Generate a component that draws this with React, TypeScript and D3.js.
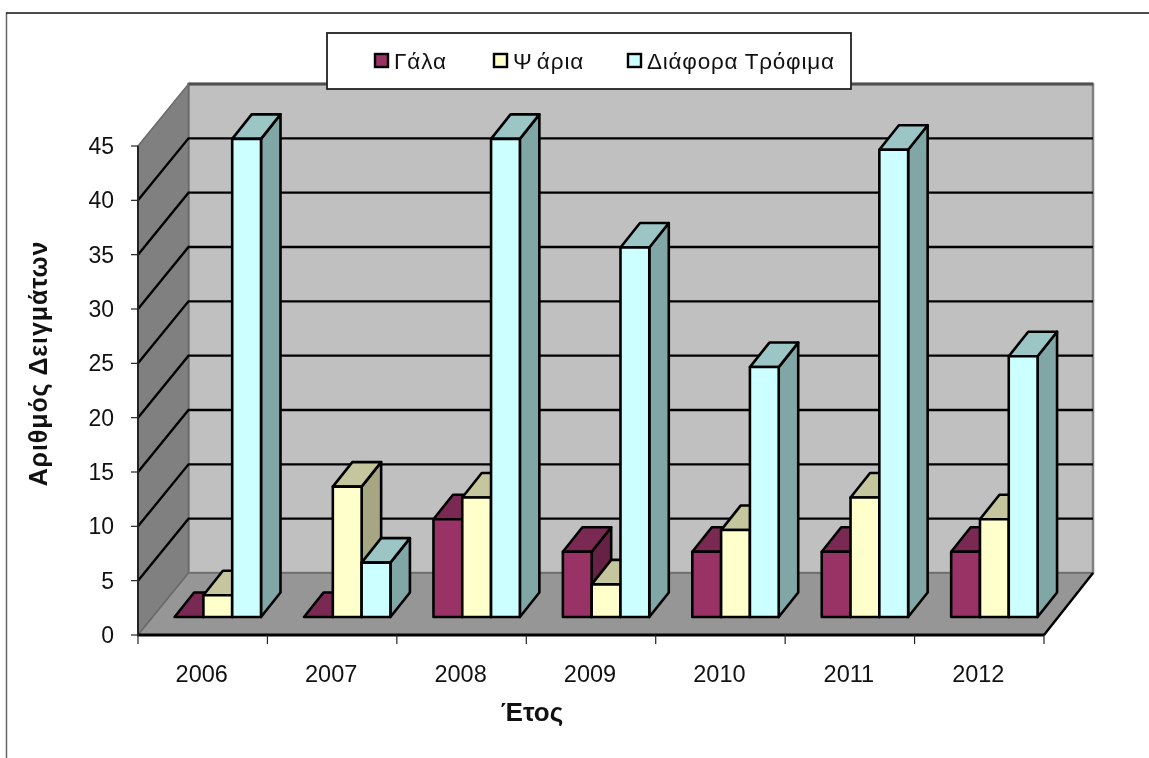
import React from "react";
import * as d3 from "d3";

const years = ["2006", "2007", "2008", "2009", "2010", "2011", "2012"];
const seriesNames = ["Γάλα", "Ψάρια", "Διάφορα Τρόφιμα"];
const gala = [0, 0, 9, 6, 6, 6, 6];
const psaria = [2, 12, 11, 3, 8, 11, 9];
const diafora = [44, 5, 44, 34, 23, 43, 24];
const yTicks = [0, 5, 10, 15, 20, 25, 30, 35, 40, 45];
const gridValues = [5, 10, 15, 20, 25, 30, 35, 40];

const frontColors = ["#993366", "#ffffcc", "#ccffff"];
const topColors = ["#7a2952", "#c6c69e", "#9cc6c6"];
const sideColors = ["#662244", "#a6a682", "#80a6a6"];

const W = 1149, H = 758;
const x0 = 138, x1 = 1044;
const wallDx = 51, wallDy = -62;
const barBaseDy = -18;
const depthDx = 19.5, depthDy = -24.5;

const y = d3.scaleLinear().domain([0, 45]).range([635, 146]);
const xCat = d3.scaleBand<string>().domain(years).range([x0, x1]);
const xBar = d3.scaleLinear().domain([0, 3]).range([36.6, 123]);
const ticksX = d3.range(years.length + 1).map((i) => x0 + i * xCat.step());
const sans = "'Liberation Sans', Arial, sans-serif";
const pts = (a: number[][]) => a.map((p) => p.join(",")).join(" ");

function Bar({ x, w, v, s }: { x: number; w: number; v: number; s: number }) {
  const b = y(0) + barBaseDy;
  const t = y(v) + barBaseDy;
  const common = { stroke: "#000", strokeWidth: 2.6, strokeLinejoin: "round" as const };
  return (
    <g>
      <polygon points={pts([[x + w, t], [x + w + depthDx, t + depthDy], [x + w + depthDx, b + depthDy], [x + w, b]])} fill={sideColors[s]} {...common} />
      <polygon points={pts([[x, t], [x + depthDx, t + depthDy], [x + w + depthDx, t + depthDy], [x + w, t]])} fill={topColors[s]} {...common} />
      <rect x={x} y={t} width={w} height={b - t} fill={frontColors[s]} {...common} />
    </g>
  );
}

export default function App() {
  const data = [gala, psaria, diafora];
  const bw = xBar(1) - xBar(0);
  const backX0 = x0 + wallDx - 0.5, backX1 = 1093;
  const legendItems = [
    { sq: 375, tx: 394, ls: 0.9 },
    { sq: 494, tx: 513, ls: 0.9 },
    { sq: 628, tx: 647, ls: 0.75 },
  ];
  return (
    <svg width={W} height={H} style={{ position: "absolute", left: 0, top: 0, background: "#fff", filter: "blur(0.55px)" }} fontFamily={sans}>
      <line x1={6.5} y1={13} x2={6.5} y2={H} stroke="#666" strokeWidth={1.5} />
      <line x1={6} y1={13} x2={W} y2={13} stroke="#111" strokeWidth={1.5} />

      {/* walls and floor */}
      <rect x={backX0} y={y(45) + wallDy} width={backX1 - backX0} height={y(0) - y(45)} fill="#c0c0c0" stroke="#808080" strokeWidth={2.5} />
      <line x1={backX0} x2={backX1} y1={y(45) + wallDy} y2={y(45) + wallDy} stroke="#505050" strokeWidth={2.8} />
      <polygon points={pts([[x0, y(45)], [backX0, y(45) + wallDy], [backX0, y(0) + wallDy], [x0, y(0)]])} fill="#808080" stroke="#6a6a6a" strokeWidth={1.5} />
      <polygon points={pts([[x0, y(0)], [backX0, y(0) + wallDy], [backX1, y(0) + wallDy], [x1, y(0)]])} fill="#969696" stroke="#6a6a6a" strokeWidth={1.5} />
      <line x1={x1} y1={y(0)} x2={backX1} y2={y(0) + wallDy} stroke="#000" strokeWidth={2.4} />

      {/* gridlines */}
      {gridValues.map((v) => (
        <polyline key={v} points={pts([[x0, y(v)], [backX0, y(v) + wallDy], [backX1, y(v) + wallDy]])} fill="none" stroke="#000" strokeWidth={2.4} />
      ))}
      <line x1={x0} y1={y(0)} x2={x1} y2={y(0)} stroke="#000" strokeWidth={3} />

      {/* bars */}
      {years.map((yr, i) =>
        data.map((series, s) => (
          <Bar key={yr + s} x={(xCat(yr) as number) + xBar(s)} w={bw} v={series[i]} s={s} />
        ))
      )}

      {/* axes */}
      <line x1={x0} y1={y(45)} x2={x0} y2={y(0)} stroke="#222" strokeWidth={2} />
      {yTicks.map((v) => (
        <g key={v}>
          <line x1={x0 - 7} x2={x0} y1={y(v)} y2={y(v)} stroke="#222" strokeWidth={1.2} />
          <text x={114} y={y(v) + 8} textAnchor="end" fontSize={23} fill="#111">{v}</text>
        </g>
      ))}
      {ticksX.map((t, i) => (
        <line key={i} x1={t} x2={t} y1={y(0)} y2={y(0) + 9} stroke="#222" strokeWidth={1.2} />
      ))}
      {years.map((yr) => (
        <text key={yr} x={(xCat(yr) as number) + xCat.bandwidth() / 2 - 1} y={682} textAnchor="middle" fontSize={23.5} fill="#111">{yr}</text>
      ))}
      <text x={532} y={721} textAnchor="middle" fontSize={26} fontWeight="bold" fill="#111">Έτος</text>
      <text transform="translate(47,363.5) rotate(-90)" textAnchor="middle" fontSize={25} fontWeight="bold" letterSpacing={0.9} fill="#111">Αριθμός Δειγμάτων</text>

      {/* legend */}
      <rect x={327} y={33} width={524} height={56} fill="#fff" stroke="#222" strokeWidth={1.8} />
      {seriesNames.map((n, i) => (
        <g key={n}>
          <rect x={legendItems[i].sq} y={54} width={13} height={13} fill={frontColors[i]} stroke="#000" strokeWidth={2.4} />
          <text x={legendItems[i].tx} y={69} fontSize={22.5} letterSpacing={legendItems[i].ls} fill="#111">
            {i === 1 ? (<><tspan>{n[0]}</tspan><tspan dx={5}>{n.slice(1)}</tspan></>) : n}
          </text>
        </g>
      ))}
    </svg>
  );
}
